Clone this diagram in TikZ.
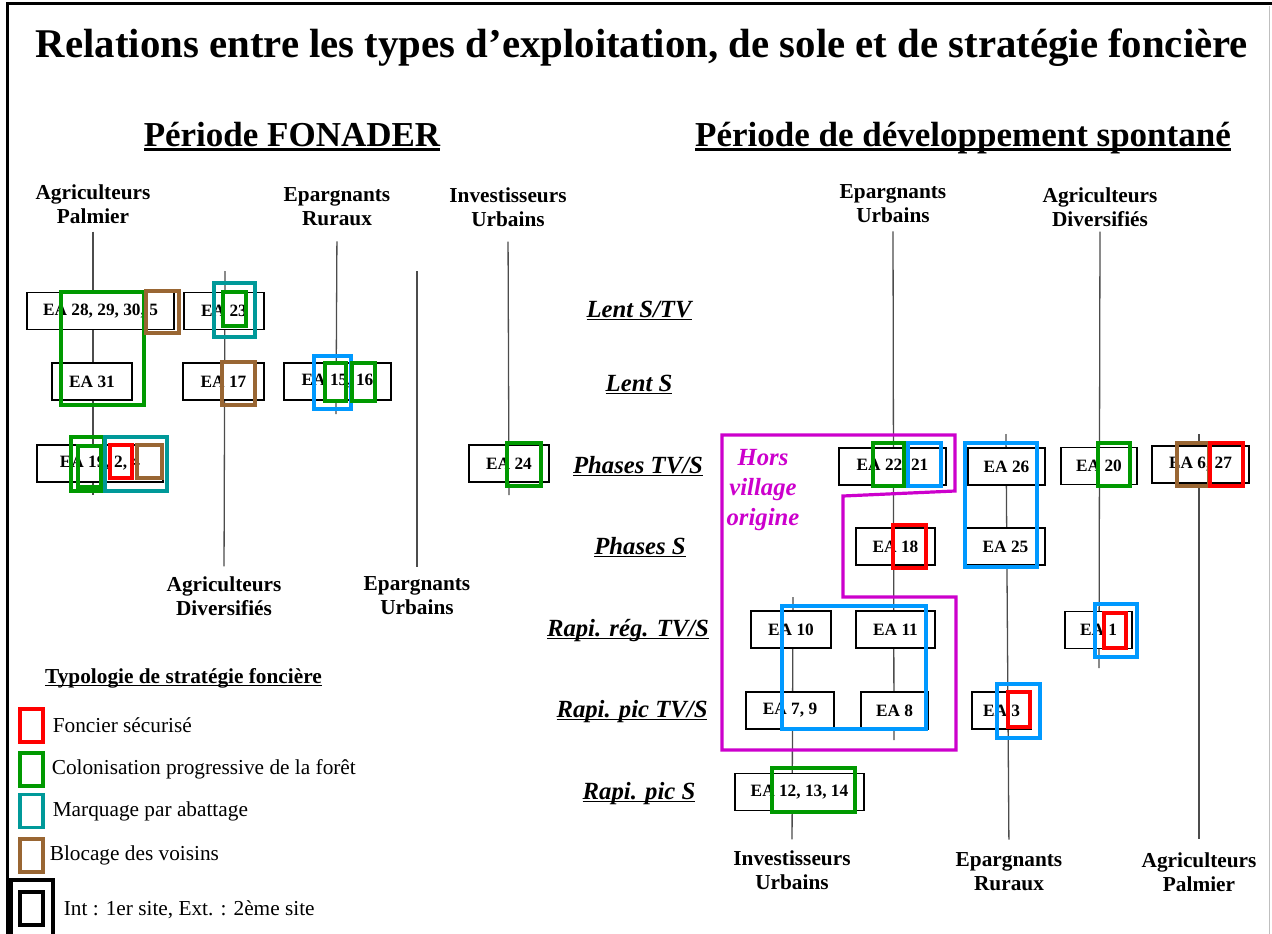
\documentclass[tikz,border=0pt]{standalone}
\usepackage{fontspec}
\setmainfont{Liberation Serif}
\usepackage{tikz}
\usetikzlibrary{positioning}
\definecolor{StratRed}{HTML}{FF0000}
\definecolor{StratGreen}{HTML}{009900}
\definecolor{StratTeal}{HTML}{009999}
\definecolor{StratBrown}{HTML}{996633}
\definecolor{StratBlue}{HTML}{0099FF}
\definecolor{HorsMagenta}{HTML}{CC00CC}
\newcommand\ttlfont{\fontsize{40.8}{46}\selectfont\bfseries}
\newcommand\periodfont{\fontsize{35}{40}\selectfont\bfseries}
\newcommand\hdrfont{\fontsize{21.3}{24}\selectfont\bfseries}
\newcommand\rowfont{\fontsize{24.7}{28}\selectfont\bfseries\itshape}
\newcommand\eafont{\fontsize{17.3}{20}\selectfont\bfseries}
\newcommand\legfont{\fontsize{21.3}{24}\selectfont}
\newcommand\ultext[1]{\setbox0=\hbox{#1}\rlap{\rule[-0.14em]{\wd0}{0.07em}}\box0}
\tikzset{
    % EA boxes sit on top of the axes
    eabox/.style={
        rectangle,
        draw=black,
        fill=white,
        line width=1.3pt,
        inner sep=0pt,
        minimum height=37pt,
        font=\eafont
    },
    typelabel/.style={
        align=center,
        inner sep=0pt,
        font=\hdrfont
    },
    rowlabel/.style={
        anchor=base,
        inner sep=0pt,
        font=\rowfont
    },
    axisline/.style={
        draw=black!70,
        line width=1.3pt
    },
    strat/.style={
        draw=#1,
        line width=3.2pt
    },
    legsq/.style={
        rectangle,
        draw=#1,
        line width=3.2pt,
        minimum width=23pt,
        minimum height=33pt,
        inner sep=0pt
    },
    legtext/.style={
        anchor=west,
        inner sep=0pt,
        font=\legfont
    }
}
\begin{document}
\begin{tikzpicture}[x=1pt, y=-1pt]
\useasboundingbox (0,0) rectangle (1272,934);
% frame
\draw[line width=3pt] (7,934) -- (7,4) -- (1272,4);
\draw[black!25, line width=1pt] (1269,6) -- (1269,934);

\node[font=\ttlfont, anchor=base] (title) at (642,58)
    {Relations entre les types d’exploitation, de sole et de stratégie foncière};
\node[font=\periodfont, anchor=base] (perfonader) at (292,146) {\ultext{Période FONADER}};
\node[font=\periodfont, anchor=base] (perspont) at (963,146) {\ultext{Période de développement spontané}};

% types d'exploitation
\node[typelabel] (agpalL) at (93,204) {Agriculteurs\\Palmier};
\node[typelabel] (eprurL) at (337,207) {Epargnants\\Ruraux};
\node[typelabel] (invurbL) at (508,207) {Investisseurs\\Urbains};
\node[typelabel] (agdivL) at (224,596) {Agriculteurs\\Diversifiés};
\node[typelabel] (epurbL) at (417,596) {Epargnants\\Urbains};
\node[typelabel] (epurbR) at (893,204) {Epargnants\\Urbains};
\node[typelabel] (agdivR) at (1100,207) {Agriculteurs\\Diversifiés};
\node[typelabel] (invurbR) at (792,870) {Investisseurs\\Urbains};
\node[typelabel] (eprurR) at (1009,872) {Epargnants\\Ruraux};
\node[typelabel] (agpalR) at (1199,872) {Agriculteurs\\Palmier};

\coordinate (agpalLend) at (93,495);
\coordinate (eprurLend) at (336,414);
\coordinate (invurbLend) at (509,495);
\coordinate (agdivLtop) at (225,271);
\coordinate (epurbLtop) at (417,271);
\coordinate (epurbRend) at (894,740);
\coordinate (agdivRend) at (1099,668);
\coordinate (invurbRtop) at (793,597);
\coordinate (eprurRtop) at (1006,434);
\coordinate (agpalRtop) at (1199,434);
\draw[axisline, shorten <=8pt] (agpalL.south) -- (agpalLend);
\draw[axisline, shorten <=15pt] (eprurL.south) -- (eprurLend);
\draw[axisline, shorten <=15pt] (invurbL.south) -- (invurbLend);
\draw[axisline, shorten >=10pt] (agdivLtop) -- (agdivL.north);
\draw[axisline, shorten >=10pt] (epurbLtop) -- (epurbL.north);
\draw[axisline, shorten <=8pt] (epurbR.south) -- (epurbRend);
\draw[axisline, shorten <=5pt] (agdivR.south) -- (agdivRend);
\draw[axisline, shorten >=11pt] (invurbRtop) -- (invurbR.north);
\draw[axisline, shorten >=13pt] (eprurRtop) -- (eprurR.north);
\draw[axisline, shorten >=13pt] (agpalRtop) -- (agpalR.north);

% soles
\node[rowlabel] (lentstv) at (639,317) {\ultext{Lent S/TV}};
\node[rowlabel] (lents) at (639,391) {\ultext{Lent S}};
\node[rowlabel] (phasestvs) at (638,473) {\ultext{Phases TV/S}};
\node[rowlabel] (phasess) at (640,554) {\ultext{Phases S}};
\node[rowlabel] (rapiregtvs) at (628,636) {\ultext{Rapi. rég. TV/S}};
\node[rowlabel] (rapipictvs) at (632,717) {\ultext{Rapi. pic TV/S}};
\node[rowlabel] (rapipics) at (639,799) {\ultext{Rapi. pic S}};

% exploitations, periode FONADER
\node[eabox, minimum width=147pt] (ea28) at (100.5,311) {EA 28, 29, 30, 5};
\node[eabox, minimum width=80pt] (ea23) at (224,311) {EA 23};
\node[eabox, minimum width=80pt] (ea31) at (92,381.5) {EA 31};
\node[eabox, minimum width=81pt] (ea17) at (223.5,381.5) {EA 17};
\node[eabox, minimum width=107pt] (ea15) at (337.5,381.5) {EA 15, 16};
\node[eabox, minimum width=126pt] (ea19) at (100,463.5) {EA 19, 2, 4};
\node[eabox, minimum width=80pt] (ea24) at (509,463.5) {EA 24};

% exploitations, developpement spontane
\node[eabox, minimum width=107pt] (ea22) at (892.5,466.5) {EA 22, 21};
\node[eabox, minimum width=77pt] (ea26) at (1006.5,466.5) {EA 26};
\node[eabox, minimum width=76pt] (ea20) at (1099,466) {EA 20};
\node[eabox, minimum width=97pt] (ea6) at (1200.5,464.5) {EA 6, 27};
\node[eabox, minimum width=79pt] (ea18) at (895.5,546.5) {EA 18};
\node[eabox, minimum width=79pt] (ea25) at (1005.5,546.5) {EA 25};
\node[eabox, minimum width=80pt] (ea10) at (791,629.5) {EA 10};
\node[eabox, minimum width=79pt] (ea11) at (895.5,629.5) {EA 11};
\node[eabox, minimum width=67pt] (ea1) at (1098.5,630) {EA 1};
\node[eabox, minimum width=88pt] (ea7) at (790,710.5) {EA 7, 9};
\node[eabox, minimum width=67pt] (ea8) at (894.5,710.5) {EA 8};
\node[eabox, minimum width=59pt] (ea3) at (1001.5,710.5) {EA 3};
\node[eabox, minimum width=129pt] (ea12) at (799.5,792) {EA 12, 13, 14};

% strategies foncieres
\draw[strat=StratGreen] (61,292) rectangle (144,405);
\draw[strat=StratBrown] (146,291) rectangle (179,333);
\draw[strat=StratTeal] (214,283) rectangle (255,337);
\draw[strat=StratGreen] (223,292) rectangle (246,326);
\draw[strat=StratBrown] (222,362) rectangle (255,405);
\draw[strat=StratBlue] (314,356) rectangle (351,409);
\draw[strat=StratGreen] (325,363) rectangle (346,401);
\draw[strat=StratGreen] (352,363) rectangle (375,401);
\draw[strat=StratGreen] (71,437) rectangle (104,491);
\draw[strat=StratGreen] (78,446) rectangle (101,487);
\draw[strat=StratTeal] (105,437) rectangle (167,491);
\draw[strat=StratRed] (110,445) rectangle (132,478);
\draw[strat=StratBrown] (137,445) rectangle (162,478);
\draw[strat=StratGreen] (507,443) rectangle (541,486);

\draw[strat=StratGreen] (873,443) rectangle (904,486);
\draw[strat=StratBlue] (908,443) rectangle (941,486);
\draw[strat=StratRed] (893,525) rectangle (926,568);
\draw[strat=StratBlue] (782,606) rectangle (926,729);
\draw[strat=StratBlue] (965,443) rectangle (1037,567);
\draw[strat=StratGreen] (1098,443) rectangle (1130,486);
\draw[strat=StratBrown] (1177,443) rectangle (1209,486);
\draw[strat=StratRed] (1210,443) rectangle (1243,486);
\draw[strat=StratBlue] (1095,604) rectangle (1137,657);
\draw[strat=StratRed] (1104,613) rectangle (1126,648);
\draw[strat=StratBlue] (997,684) rectangle (1040,738);
\draw[strat=StratRed] (1008,692) rectangle (1030,727);
\draw[strat=StratGreen] (772,768) rectangle (855,812);

% hors village origine
\draw[strat=HorsMagenta, line join=miter] (722,435) -- (955,435) -- (955,491) -- (843,496)
    -- (843,597) -- (956,597) -- (956,750) -- (722,750) -- cycle;
\node[align=center, inner sep=0pt, text=HorsMagenta, font=\fontsize{24.7}{30}\selectfont\bfseries\itshape]
    (horsvillage) at (763,490) {Hors\\village\\origine};

% legende
\node[legtext, font=\legfont\bfseries] (legtitle) at (45,678) {\ultext{Typologie de stratégie foncière}};
\node[legsq=StratRed] (sqred) at (31.5,725.5) {};
\node[legsq=StratGreen] (sqgreen) at (31.5,769.5) {};
\node[legsq=StratTeal] (sqteal) at (31.5,811) {};
\node[legsq=StratBrown] (sqbrown) at (31.5,855.5) {};
\node[legsq=black, minimum width=42pt, minimum height=60pt] (sqext) at (32,910) {};
\node[legsq=black] (sqint) at (31.5,908.5) {};
\node[legtext, right=8pt of sqred] (legred) {Foncier sécurisé};
\node[legtext, right=7pt of sqgreen] (leggreen) {Colonisation progressive de la forêt};
\node[legtext, right=8pt of sqteal] (legteal) {Marquage par abattage};
\node[legtext, right=5pt of sqbrown] (legbrown) {Blocage des voisins};
\node[legtext, right=9pt of sqext] (legsite) {Int : 1er site, Ext. : 2ème site};
\end{tikzpicture}
\end{document}
